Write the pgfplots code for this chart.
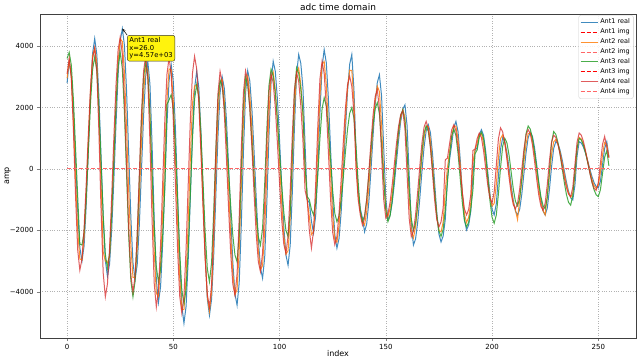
\documentclass[border=0pt]{standalone}
\usepackage{pgfplots}
\usepackage{pgfplotstable}
\usepackage{fontspec}
\setmainfont{DejaVu Sans}
\pgfplotsset{compat=1.18}
\definecolor{tabblue}{HTML}{1F77B4}
\definecolor{taborange}{HTML}{FF7F0E}
\definecolor{tabgreen}{HTML}{2CA02C}
\definecolor{tabred}{HTML}{D62728}

\pgfplotstableread{
x b o g r
0 2800 2950 3600 3100
1 3500 3550 3800 3600
2 3065 3005 3379 2945
3 1875 1548 2230 1220
4 250 -335 660 -919
5 -1375 -2010 -910 -2644
6 -2564 -2932 -2450 -3300
7 -3000 -2969 -2480 -2938
8 -2514 -2226 -2069 -1937
9 -1188 -834 -948 -480
10 625 878 585 1130
11 2438 2513 2117 2587
12 3764 3676 3239 3587
13 4250 3950 3650 3950
14 3731 3455 3188 3179
15 2313 1731 1928 1149
16 375 -497 205 -1369
17 -1562 -2700 -1517 -3399
18 -2981 -3000 -2778 -4170
19 -3500 -3050 -3240 -3747
20 -3097 -2838 -2768 -2578
21 -1983 -1429 -1480 -875
22 -361 322 280 1005
23 1431 2070 2040 2708
24 3053 3465 3328 3876
25 4166 4233 3800 4300
26 4570 4157 3266 3743
27 4023 3123 1808 2223
28 2528 1337 -185 145
29 485 -724 -2177 -1932
30 -1557 -2505 -3636 -3453
31 -3053 -3532 -4170 -4010
32 -3600 -3547 -3656 -3493
33 -3124 -2604 -2253 -2083
34 -1825 -990 -335 -155
35 -50 861 1582 1772
36 1725 2454 2986 3183
37 3024 3362 3500 3700
38 3500 3211 3019 2921
39 2754 1813 1705 871
40 792 -440 -90 -1671
41 -1642 -2682 -1885 -3721
42 -3604 -4052 -3199 -4500
43 -4350 -4153 -3680 -3955
44 -3831 -3150 -3273 -2468
45 -2413 -1424 -2160 -435
46 -475 561 -640 1597
47 1462 2274 2100 3085
48 2881 3256 2250 3630
49 3400 3236 2420 3072
50 2835 2192 1963 1548
51 1293 379 715 -535
52 -815 -1716 -990 -2617
53 -2922 -3532 -2695 -4142
54 -4465 -4583 -3943 -4700
55 -5030 -4585 -4400 -4139
56 -4480 -3544 -3921 -2608
57 -2978 -1747 -2613 -515
58 -925 326 -825 1577
59 1127 2118 962 3109
60 2630 2700 2271 3670
61 3180 2750 2750 3262
62 2647 2391 2319 2134
63 1193 843 1143 492
64 -795 -1059 -465 -1322
65 -2782 -2873 -2072 -2964
66 -4237 -4164 -3249 -4091
67 -4770 -4635 -3680 -4500
68 -4249 -4010 -3055 -3770
69 -2828 -2339 -1410 -1850
70 -885 -178 630 530
71 1057 1754 2275 2450
72 2479 2830 2900 3180
73 3000 2908 2675 2815
74 2628 2218 2034 1808
75 1601 971 1068 340
76 106 -587 -65 -1280
77 -1546 -2147 -1198 -2748
78 -3041 -3398 -2164 -3755
79 -4068 -4094 -2805 -4120
80 -4440 -3933 -3030 -3425
81 -3714 -2655 -2150 -1595
82 -1804 -565 -15 675
83 564 1535 2120 2505
84 2474 2837 3000 3200
85 3200 3037 2726 2873
86 2862 2416 1970 1969
87 1929 1291 868 652
88 570 -116 -348 -802
89 -930 -1525 -1450 -2119
90 -2289 -2656 -2206 -3022
91 -3222 -3286 -2480 -3350
92 -3560 -3149 -1936 -2737
93 -2888 -2007 -503 -1125
94 -1121 -123 1273 875
95 1071 1779 2706 2487
96 2838 2969 3250 3100
97 3510 3159 3043 2808
98 3178 2589 2453 2000
99 2260 1542 1563 824
100 923 225 520 -474
101 -553 -1102 -523 -1650
102 -1890 -2174 -1413 -2457
103 -2807 -2779 -2003 -2750
104 -3140 -2665 -2210 -2190
105 -2487 -1603 -1406 -718
106 -770 169 545 1108
107 1360 1970 2496 2580
108 3077 3109 3300 3140
109 3730 3292 3118 2854
110 3439 2752 2599 2065
111 2636 1776 1817 915
112 800 50 100 -700
113 -1000 -1000 -900 -1000
114 -1100 -1550 -1000 -2000
115 -1700 -2140 -1318 -2580
116 -2090 -2046 -1500 -2001
117 -1522 -1001 -1137 -479
118 -27 691 -182 1409
119 1827 2379 1002 2931
120 3322 3416 1957 3510
121 3890 3500 2320 3109
122 3457 2736 2049 2015
123 2273 1397 1310 520
124 655 -160 300 -975
125 -962 -1516 -710 -2069
126 -2147 -2309 -1449 -2470
127 -2580 -2388 -1720 -2196
128 -2265 -1852 -1534 -1438
129 -1394 -864 -1021 -334
130 -125 380 -273 884
131 1275 1632 553 1988
132 2544 2645 1301 2745
133 3414 3217 1814 3020
134 3730 3213 2000 2695
135 2600 2204 1647 1808
136 500 250 717 0
137 -700 -850 -437 -1000
138 -1300 -1400 -1367 -1500
139 -1600 -1715 -1720 -1830
140 -2050 -1830 -1526 -1610
141 -1794 -1398 -991 -1001
142 -1087 -601 -211 -114
143 -58 404 651 865
144 1078 1415 1431 1751
145 2107 2233 1966 2359
146 2814 2697 2160 2580
147 3070 2520 1791 1970
148 2381 1436 821 490
149 710 -140 -381 -990
150 -961 -1281 -1351 -1600
151 -1650 -1559 -1720 -1467
152 -1508 -1299 -1538 -1089
153 -1104 -812 -1034 -519
154 -494 -172 -300 150
155 220 519 510 818
156 934 1162 1244 1389
157 1544 1656 1747 1767
158 1948 1924 1930 1900
159 2090 1695 1557 1300
160 1423 634 574 -155
161 -195 -903 -644 -1610
162 -1813 -2012 -1627 -2210
163 -2480 -2251 -2000 -2022
164 -2284 -1894 -1772 -1503
165 -1743 -1245 -1150 -747
166 -955 -434 -300 87
167 -85 379 550 843
168 703 1033 1172 1362
169 1244 1397 1400 1550
170 1440 1380 1220 1320
171 1184 937 723 690
172 485 158 0 -170
173 -470 -750 -800 -1030
174 -1425 -1543 -1523 -1660
175 -2124 -2007 -2020 -1890
176 -2380 -2052 -2200 -1724
177 -2184 -1724 -1966 -1264
178 -1641 -671 -1325 300
179 -300 25 -450 350
180 300 557 425 814
181 800 1037 1065 1273
182 1353 1397 1300 1440
183 1550 1397 1086 1243
184 1214 960 503 705
185 329 150 -295 -30
186 -769 -767 -1092 -765
187 -1654 -1479 -1676 -1303
188 -1990 -1745 -1890 -1500
189 -1827 -1574 -1736 -1321
190 -1375 -1104 -1309 -833
191 -200 200 -688 600
192 600 625 500 650
193 700 846 619 991
194 1116 1143 1045 1170
195 1280 1149 1200 1017
196 1094 847 1001 600
197 585 308 458 30
198 -110 -325 -285 -540
199 -805 -881 -1027 -957
200 -1314 -1212 -1571 -1110
201 -1500 -1126 -1770 -752
202 -1134 -510 -1507 115
203 -245 369 -814 982
204 644 992 44 1340
205 1010 1109 737 1208
206 885 865 1000 844
207 538 426 853 313
208 34 -120 450 -273
209 -524 -664 -100 -804
210 -1028 -1098 -650 -1168
211 -1374 -1337 -1053 -1300
212 -1500 -1650 -1200 -1127
213 -1319 -987 -953 -655
214 -825 -418 -303 -10
215 -150 243 503 635
216 525 816 1153 1107
217 1019 1150 1400 1280
218 1200 1175 1297 1149
219 1065 926 1006 786
220 692 475 566 257
221 150 -89 50 -327
222 -450 -653 -466 -856
223 -992 -1105 -906 -1218
224 -1365 -1358 -1197 -1350
225 -1500 -1500 -1300 -1117
226 -1273 -889 -932 -505
227 -675 -210 -40 255
228 65 466 852 867
229 663 882 1220 1100
230 890 957 1129 1024
231 818 813 870 808
232 613 548 478 482
233 303 202 20 100
234 -60 -171 -438 -282
235 -423 -516 -830 -608
236 -733 -779 -1089 -824
237 -938 -919 -1180 -900
238 -1010 -804 -862 -598
239 -535 -200 -90 135
240 415 642 682 868
241 890 1030 1000 1170
242 845 972 943 1099
243 713 805 778 897
244 513 553 525 592
245 266 251 215 235
246 4 -59 -115 -122
247 -242 -335 -425 -427
248 -443 -536 -678 -629
249 -575 -638 -843 -700
250 -620 -532 -900 -443
251 -400 -110 -681 180
252 135 469 -150 803
253 670 865 381 1060
254 890 795 600 700
255 400 380 100 360
}\adc

\begin{document}
\begin{tikzpicture}
\useasboundingbox (-40pt,-24pt) rectangle (600pt,338pt);
\begin{axis}[
  at={(0,0)}, anchor=south west,
  width=596pt, height=324pt, scale only axis,
  xmin=-12.75, xmax=267.75, ymin=-5510, ymax=5050,
  xtick={0,50,100,150,200,250},
  xticklabels={0,50,100,150,200,250},
  ytick={-4000,-2000,0,2000,4000},
  yticklabels={−4000,−2000,0,2000,4000},
  tick label style={font=\fontsize{7}{8}\selectfont},
  grid=major, grid style={dotted, black!30},
  tick align=outside, tick pos=left,
  major tick length=3pt,
  axis line style={black!75},
  title={adc time domain},
  every axis title shift=0pt,
  title style={font=\fontsize{9}{10}\selectfont, at={(0.5,1)}, anchor=base, inner sep=0pt, yshift=3.5pt},
  xlabel={index}, ylabel={amp},
  label style={font=\fontsize{8}{9}\selectfont},
  xlabel style={at={(axis description cs:0.5,-0.049)}, anchor=center, inner sep=0pt},
  ylabel style={at={(axis description cs:-0.054,0.5)}, anchor=center, inner sep=0pt},
  legend cell align=left,
  legend style={at={(0.996,0.996)}, anchor=north east, font=\fontsize{6.5}{7.5}\selectfont,
    draw=black!20, rounded corners=2pt, fill=white, fill opacity=0.85, text opacity=1,
    inner sep=1.5pt, row sep=-0.5pt},
  every axis plot/.append style={line width=1pt},
]
\addplot[tabblue, opacity=0.85] table[x=x, y=b] {\adc};
\addlegendentry{Ant1 real}
\addplot[red, dash pattern=on 4pt off 2pt, line width=1pt] coordinates {(0,0) (255,0)};
\addlegendentry{Ant1 img}
\addplot[taborange, opacity=0.85] table[x=x, y=o] {\adc};
\addlegendentry{Ant2 real}
\addplot[red!60, dash pattern=on 4pt off 2pt, line width=1pt] coordinates {(0,0) (255,0)};
\addlegendentry{Ant2 img}
\addplot[tabgreen, opacity=0.85] table[x=x, y=g] {\adc};
\addlegendentry{Ant3 real}
\addplot[red, dash pattern=on 4pt off 2pt, line width=1pt] coordinates {(0,0) (255,0)};
\addlegendentry{Ant3 img}
\addplot[tabred, opacity=0.75] table[x=x, y=r] {\adc};
\addlegendentry{Ant4 real}
\addplot[red!60, dash pattern=on 4pt off 2pt, line width=1pt] coordinates {(0,0) (255,0)};
\addlegendentry{Ant4 img}
\node[draw=black!80, fill=yellow!95!white, rounded corners=2pt, align=left,
  font=\fontsize{6.8}{7.6}\selectfont, anchor=north west, inner sep=2pt] (ann)
  at (axis cs:28.3,4360) {Ant1 real\\x=26.0\\y=4.57e+03};
\draw[-stealth, black, line width=0.5pt] (ann.north west) -- (axis cs:26,4570);
\end{axis}
\end{tikzpicture}
\end{document}
